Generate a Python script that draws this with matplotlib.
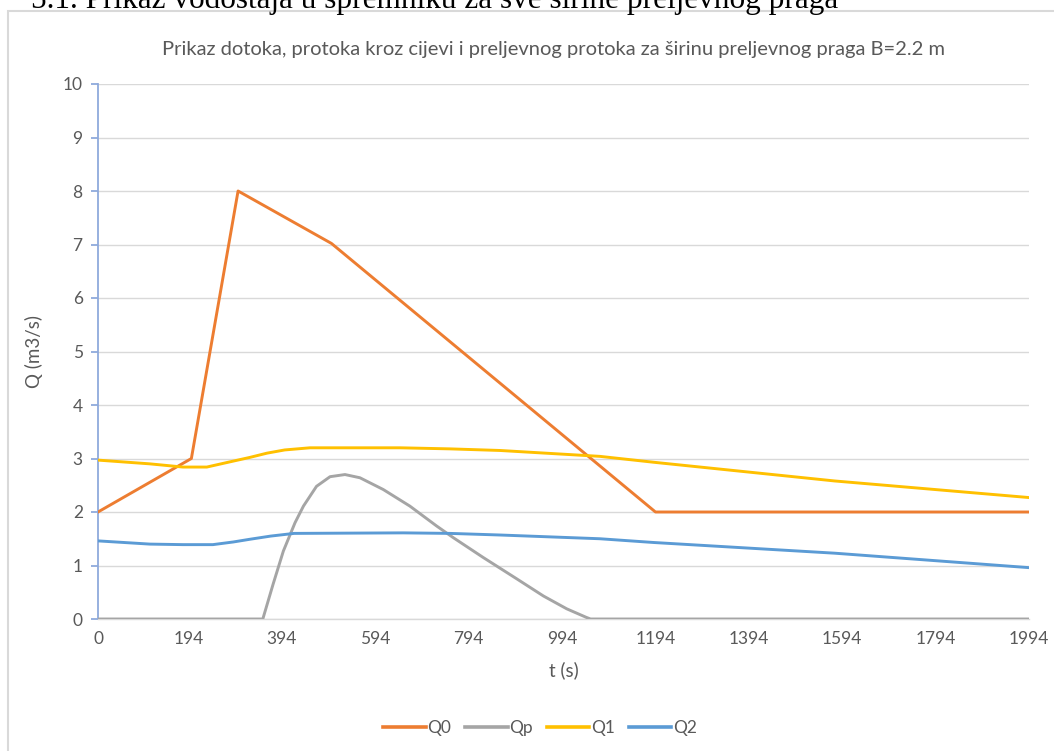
import matplotlib
matplotlib.use("Agg")
import matplotlib.pyplot as plt
from matplotlib.patches import Rectangle

# ---- data ----
t_q0 = [0, 200, 300, 500, 1194, 1994]
q0 = [2.0, 3.0, 8.0, 7.02, 2.0, 2.0]

t_qp = [0, 353, 375, 397, 422, 440, 468, 497, 529, 561, 611, 668, 725, 761,
        825, 897, 954, 1004, 1046, 1055, 1994]
qp = [0, 0, 0.65, 1.27, 1.80, 2.11, 2.48, 2.66, 2.70, 2.64, 2.42, 2.11, 1.74,
      1.52, 1.15, 0.75, 0.43, 0.19, 0.03, 0.0, 0.0]

t_q1 = [0, 111, 182, 233, 289, 325, 362, 400, 454, 647, 754, 861, 1075, 1190, 1578, 1994]
q1 = [2.97, 2.9, 2.84, 2.84, 2.95, 3.02, 3.10, 3.16, 3.2, 3.2, 3.18, 3.15, 3.04, 2.93, 2.58, 2.27]

t_q2 = [0, 111, 182, 246, 290, 325, 370, 420, 654, 754, 861, 1075, 1190, 1578, 1994]
q2 = [1.46, 1.4, 1.39, 1.39, 1.44, 1.49, 1.55, 1.60, 1.61, 1.6, 1.57, 1.50, 1.43, 1.23, 0.96]

x_ticks = [0, 194, 394, 594, 794, 994, 1194, 1394, 1594, 1794, 1994]
y_ticks = list(range(0, 11))

title = "Prikaz dotoka, protoka kroz cijevi i preljevnog protoka za širinu preljevnog praga B=2.2 m"
heading = "5.1. Prikaz vodostaja u spremniku za sve širine preljevnog praga"

# ---- figure ----
W, H = 1054, 751
fig = plt.figure(figsize=(W / 100, H / 100), dpi=100)
fig.patch.set_facecolor("white")

def fx(px):
    return px / W

def fy(py):
    return 1 - py / H

# chart border
fig.patches.append(Rectangle((fx(8), fy(800)), fx(1100), fy(11) - fy(800),
                             transform=fig.transFigure, fill=False,
                             edgecolor="#D9D9D9", linewidth=1.5))

# document heading (clipped at the top, as in the reference)
fig.text(fx(838), fy(8), heading, ha="right", va="baseline",
         fontsize=22.5, family="Liberation Serif", color="black")

left, right, top, bottom = 98, 1029, 84, 619
ax = fig.add_axes([fx(left), fy(bottom), fx(right - left), fy(top) - fy(bottom)])

grey_txt = "#595959"
lw = 2.1
ax.plot(t_q0, q0, color="#ED7D31", lw=lw, label="Q0", zorder=3)
ax.plot(t_qp, qp, color="#A5A5A5", lw=lw, label="Qp", zorder=3)
ax.plot(t_q1, q1, color="#FFC000", lw=lw, label="Q1", zorder=3)
ax.plot(t_q2, q2, color="#5B9BD5", lw=lw, label="Q2", zorder=3)

ax.set_xlim(0, 1994)
ax.set_ylim(0, 10)
ax.set_xticks(x_ticks)
ax.set_yticks(y_ticks)
ax.grid(axis="y", color="#D9D9D9", lw=1)
ax.set_axisbelow(True)
for s in ["top", "right"]:
    ax.spines[s].set_visible(False)
ax.spines["left"].set_color("#8FAADC")
ax.spines["left"].set_linewidth(1.3)
ax.spines["bottom"].set_color("#D9D9D9")
ax.spines["bottom"].set_linewidth(1)
ax.tick_params(axis="y", length=5, color="#8FAADC", width=1.3, labelsize=12.5,
               labelcolor=grey_txt, pad=6)
ax.tick_params(axis="x", length=0, labelsize=12.5, labelcolor=grey_txt, pad=9)
for lab in ax.get_xticklabels() + ax.get_yticklabels():
    lab.set_family("Lato")

ax.set_xlabel("t (s)", fontsize=13.5, color=grey_txt, family="Lato", labelpad=10)
ax.set_ylabel("Q (m3/s)", fontsize=13.5, color=grey_txt, family="Lato", labelpad=14)

fig.text(fx(553), fy(50), title, ha="center", va="center", fontsize=14.5,
         color=grey_txt, family="Lato")

leg = fig.legend(loc="center", bbox_to_anchor=(fx(540), fy(728)), ncol=4,
                 frameon=False, handlelength=2.45, handletextpad=0.1,
                 columnspacing=0.8, prop={"family": "Lato", "size": 12.5})
for txt in leg.get_texts():
    txt.set_color(grey_txt)
for line in leg.get_lines():
    line.set_linewidth(2.6)

fig.savefig("out.png", dpi=100, facecolor="white")
